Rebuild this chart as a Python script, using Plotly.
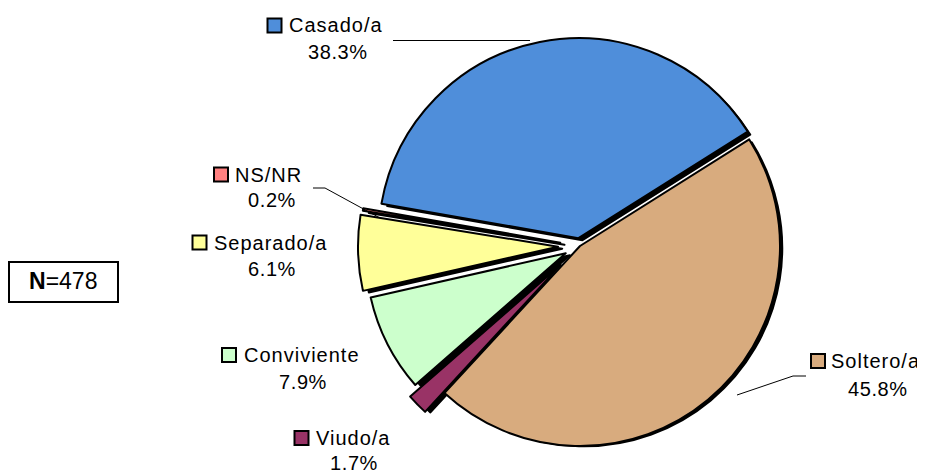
import plotly.graph_objects as go

# data (clockwise order, starting at Soltero/a)
labels = ['Soltero/a', 'Viudo/a', 'Conviviente', 'Separado/a', 'NS/NR', 'Casado/a']
values = [45.8, 1.7, 7.9, 6.1, 0.2, 38.3]
colors = ['#D8AB7E', '#993366', '#CCFFCC', '#FFFF99', '#FF8080', '#4F8EDA']
pulls = [0.0, 0.135, 0.08, 0.11, 0.10, 0.04]
n_total = 478

# the page body has an 8px margin, so the figure is drawn 8px smaller
OFF = 8
W, H = 925 - OFF, 473 - OFF


def px(x):
    return (x - OFF) / W


def py(y):
    return 1 - (y - OFF) / H


# pie centre and half size in reference pixels
cx, cy, half = 580, 246, 227
dom = dict(x=[px(cx - half), px(cx + half)], y=[py(cy + half), py(cy - half)])
shadow = dict(x=[px(cx - half + 4), px(cx + half + 4)], y=[py(cy + half + 4), py(cy - half + 4)])
shadow['y'][0] = max(shadow['y'][0], 0)

fig = go.Figure()
# black drop shadow under the slices
fig.add_trace(go.Pie(
    labels=labels, values=values, pull=pulls, sort=False,
    direction='clockwise', rotation=57.8, domain=shadow,
    marker=dict(colors=['black'] * len(values), line=dict(color='black', width=2)),
    textinfo='none', hoverinfo='skip', showlegend=False,
))
fig.add_trace(go.Pie(
    labels=labels, values=values, pull=pulls, sort=False,
    direction='clockwise', rotation=57.8, domain=dom,
    marker=dict(colors=colors, line=dict(color='black', width=2)),
    textinfo='none', showlegend=False,
))

# label layout: square centre x, y, name start x, percent centre x, percent y (pixels)
label_pos = {
    'Casado/a': (274.5, 25.5, 287, 338, 52),
    'NS/NR': (221, 174.5, 233, 272, 200),
    'Separado/a': (199.5, 242.5, 212, 271.5, 268.5),
    'Conviviente': (229, 355, 242, 303, 381.5),
    'Viudo/a': (301.5, 438, 314, 354, 462.5),
    'Soltero/a': (818, 361, 829, 878, 388.5),
}

font = dict(family='Liberation Sans, Arial, sans-serif', size=20, color='black')
shapes = []
annotations = []
for lab, val, col in zip(labels, values, colors):
    sx, sy, tx, pcx, pcy = label_pos[lab]
    shapes.append(dict(type='rect', xref='paper', yref='paper',
                       x0=px(sx - 7), x1=px(sx + 7), y0=py(sy + 7), y1=py(sy - 7),
                       fillcolor=col, line=dict(color='black', width=2)))
    annotations.append(dict(x=px(tx), y=py(sy), xref='paper', yref='paper',
                            text=f'<span style="letter-spacing:1px">{lab}</span>',
                            showarrow=False, xanchor='left', yanchor='middle',
                            font=font))
    annotations.append(dict(x=px(pcx), y=py(pcy), xref='paper', yref='paper',
                            text=f'<span style="letter-spacing:0.6px">{val:.1f}%</span>',
                            showarrow=False, xanchor='center', yanchor='middle',
                            font=font))

# leader lines
leaders = [
    [(393, 40.5), (530, 40.5)],
    [(313, 188), (325, 188), (380, 218)],
    [(806, 376), (793, 376), (737, 395)],
]
for pts in leaders:
    for (x0, y0), (x1, y1) in zip(pts[:-1], pts[1:]):
        shapes.append(dict(type='line', xref='paper', yref='paper',
                           x0=px(x0), y0=py(y0), x1=px(x1), y1=py(y1),
                           line=dict(color='black', width=1)))

# N box
shapes.append(dict(type='rect', xref='paper', yref='paper',
                   x0=px(9), x1=px(118), y0=py(302), y1=py(262),
                   fillcolor='white', line=dict(color='black', width=2)))
annotations.append(dict(x=px(63), y=py(281), xref='paper', yref='paper',
                        text=f'<b>N</b>={n_total}', showarrow=False,
                        xanchor='center', yanchor='middle',
                        font=dict(family='Liberation Sans, Arial, sans-serif', size=23, color='black')))

fig.update_layout(
    width=W, height=H,
    margin=dict(l=0, r=0, t=0, b=0),
    paper_bgcolor='white', plot_bgcolor='white',
    shapes=shapes, annotations=annotations,
)

fig.write_html("out.html")
